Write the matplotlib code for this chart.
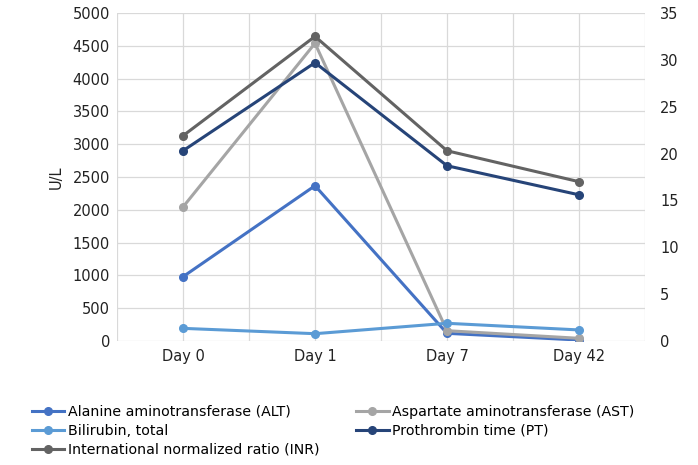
import numpy as np
import matplotlib.pyplot as plt

days = ['Day 0', 'Day 1', 'Day 7', 'Day 42']

# left axis (U/L)
alt = [980, 2367, 117, 15]
ast = [2043, 4538, 157, 41]
# right axis
bilirubin = [1.35, 0.78, 1.89, 1.18]
pt = [20.3, 29.7, 18.7, 15.6]
inr = [21.9, 32.5, 20.3, 17.0]

c_alt = '#4472C4'
c_ast = '#A5A5A5'
c_bili = '#5B9BD5'
c_pt = '#264478'
c_inr = '#636363'

plt.rcParams['font.family'] = ['DejaVu Sans']
fs = 10.5

fig = plt.figure(figsize=(6.98, 4.65), dpi=100)
ax = fig.add_axes([117/698, 1 - 341/465, (645 - 117)/698, (341 - 13)/465])
ax2 = ax.twinx()

x = np.arange(len(days))
lw = 2.2
ms = 5.5

l_alt, = ax.plot(x, alt, color=c_alt, lw=lw, marker='o', ms=ms, label='Alanine aminotransferase (ALT)', zorder=3)
l_ast, = ax.plot(x, ast, color=c_ast, lw=lw, marker='o', ms=ms, label='Aspartate aminotransferase (AST)', zorder=3)
l_bili, = ax2.plot(x, bilirubin, color=c_bili, lw=lw, marker='o', ms=ms, label='Bilirubin, total', zorder=3)
l_pt, = ax2.plot(x, pt, color=c_pt, lw=lw, marker='o', ms=ms, label='Prothrombin time (PT)', zorder=3)
l_inr, = ax2.plot(x, inr, color=c_inr, lw=lw, marker='o', ms=ms, label='International normalized ratio (INR)', zorder=3)

ax.set_xlim(-0.5, 3.5)
ax.set_ylim(0, 5000)
ax.set_yticks(np.arange(0, 5001, 500))
ax2.set_ylim(0, 35)
ax2.set_yticks(np.arange(0, 36, 5))
ax.set_xticks(x)
ax.set_xticklabels(days)
ax.set_xticks(np.arange(-0.5, 3.6, 0.5), minor=True)

ax.grid(True, which='both', axis='x', color='#D9D9D9', lw=0.9)
ax.grid(True, which='major', axis='y', color='#D9D9D9', lw=0.9)
ax.set_axisbelow(True)

for a in (ax, ax2):
    for s in a.spines.values():
        s.set_visible(False)
    a.tick_params(which='both', length=0, labelsize=fs, colors='#222222')
ax.tick_params(axis='y', pad=5)
ax.tick_params(axis='x', pad=6)
ax2.tick_params(axis='y', pad=11)

ax.set_ylabel('U/L', fontsize=fs, color='#222222', labelpad=6)

fig.legend(handles=[l_alt, l_bili, l_inr, l_ast, l_pt], ncol=2, frameon=False,
           loc='upper left', bbox_to_anchor=(26/698, 1 - 399/465), fontsize=10.2,
           handlelength=2.3, handletextpad=0.25, labelspacing=0.36, columnspacing=2.6,
           borderaxespad=0)

fig.savefig('out.png', dpi=100)
